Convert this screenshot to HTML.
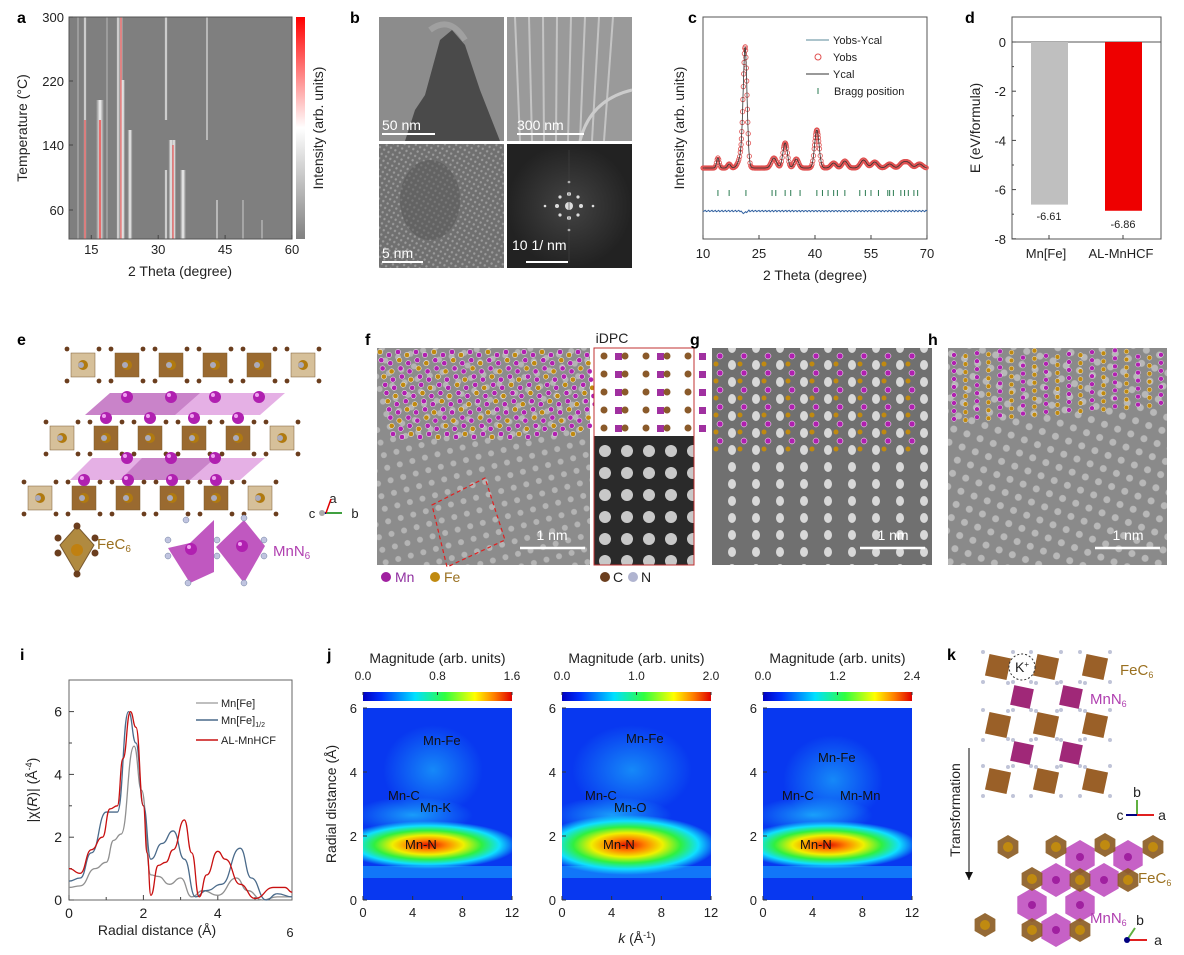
<!DOCTYPE html>
<html><head><meta charset="utf-8">
<style>
html,body{margin:0;padding:0;background:#fff;}
svg{display:block;font-family:"Liberation Sans",Arial,sans-serif;}
</style></head>
<body>
<svg id="s" width="1184" height="955" viewBox="0 0 1184 955" xmlns="http://www.w3.org/2000/svg">
<defs>
<linearGradient id="cbA" x1="0" y1="1" x2="0" y2="0">
<stop offset="0" stop-color="#808080"/><stop offset="0.5" stop-color="#fff"/><stop offset="1" stop-color="#ff0000"/></linearGradient>
<linearGradient id="jet" x1="0" y1="0" x2="1" y2="0">
<stop offset="0" stop-color="#0000c0"/><stop offset="0.12" stop-color="#0030ff"/><stop offset="0.35" stop-color="#00e0ff"/><stop offset="0.55" stop-color="#30ff40"/><stop offset="0.75" stop-color="#ffff00"/><stop offset="0.88" stop-color="#ff8000"/><stop offset="1" stop-color="#e00000"/></linearGradient>
<radialGradient id="hot" cx="0.5" cy="0.5" r="0.5">
<stop offset="0" stop-color="#e01000"/><stop offset="0.2" stop-color="#ff8000"/><stop offset="0.4" stop-color="#f0f000"/><stop offset="0.6" stop-color="#30f040"/><stop offset="0.8" stop-color="#10e0ff"/><stop offset="1" stop-color="#10e0ff" stop-opacity="0"/></radialGradient>
<radialGradient id="cy" cx="0.5" cy="0.5" r="0.5">
<stop offset="0" stop-color="#20c8ff" stop-opacity="0.7"/><stop offset="1" stop-color="#20c8ff" stop-opacity="0"/></radialGradient>
<linearGradient id="vw" x1="0" y1="0" x2="1" y2="0"><stop offset="0" stop-color="#fff" stop-opacity="0"/><stop offset="0.5" stop-color="#fff" stop-opacity="0.9"/><stop offset="1" stop-color="#fff" stop-opacity="0"/></linearGradient>
<linearGradient id="vr" x1="0" y1="0" x2="1" y2="0"><stop offset="0" stop-color="#ff8080" stop-opacity="0"/><stop offset="0.5" stop-color="#e81010"/><stop offset="1" stop-color="#ff8080" stop-opacity="0"/></linearGradient>
<pattern id="dots" width="14" height="14" patternUnits="userSpaceOnUse" patternTransform="rotate(20)">
<rect width="14" height="14" fill="#8a8a8a"/><circle cx="7" cy="7" r="3.5" fill="#b8b8b8"/></pattern>
<pattern id="cols" width="24" height="17" patternUnits="userSpaceOnUse">
<rect width="24" height="17" fill="#707070"/><ellipse cx="12" cy="8" rx="4" ry="5" fill="#d8d8d8"/></pattern>
<pattern id="dots2" width="13" height="13" patternUnits="userSpaceOnUse" patternTransform="rotate(-15)">
<rect width="13" height="13" fill="#8c8c8c"/><circle cx="6" cy="6" r="3" fill="#b4b4b4"/></pattern>
<pattern id="idpc" width="22" height="22" patternUnits="userSpaceOnUse">
<rect width="22" height="22" fill="#2a2a2a"/><circle cx="11" cy="11" r="6" fill="#c8c8c8"/></pattern>
<pattern id="hr" width="5" height="5" patternUnits="userSpaceOnUse" patternTransform="rotate(30)">
<rect width="5" height="5" fill="#707070"/><circle cx="2.5" cy="2.5" r="1.2" fill="#9a9a9a"/></pattern>
<radialGradient id="fft" cx="0.5" cy="0.5" r="0.5"><stop offset="0" stop-color="#444"/><stop offset="1" stop-color="#222"/></radialGradient>
<clipPath id="ca"><rect x="69" y="17" width="223" height="222"/></clipPath>
<clipPath id="cj0"><rect x="363" y="708" width="149" height="192"/></clipPath>
<clipPath id="cj1"><rect x="562" y="708" width="149" height="192"/></clipPath>
<clipPath id="cj2"><rect x="763" y="708" width="149" height="192"/></clipPath>
</defs>
<g id="root" font-size="13" fill="#222"></g>
</svg>
<script>
const R=document.getElementById('root');
let h='';
function T(x,y,t,o){o=o||{};h+=`<text x="${x}" y="${y}" font-size="${o.s||13}" text-anchor="${o.a||'middle'}" fill="${o.c||'#222'}" ${o.w?'font-weight="bold"':''} ${o.r?`transform="rotate(${o.r} ${x} ${y})"`:''}>${t}</text>`;}
function L(x1,y1,x2,y2,c,w){h+=`<line x1="${x1}" y1="${y1}" x2="${x2}" y2="${y2}" stroke="${c||'#444'}" stroke-width="${w||1}"/>`;}
function Rc(x,y,w,hh,f,st){h+=`<rect x="${x}" y="${y}" width="${w}" height="${hh}" fill="${f}" ${st?`stroke="${st}"`:''}/>`;}
function lbl(x,y,t){T(x,y,t,{s:16,w:1,a:'start',c:'#000'});}
// ---------- a
lbl(17,23,'a');
Rc(69,17,223,222,'#7f7f7f');
h+='<g clip-path="url(#ca)">';
const lines=[[85,3,'w',17,239],[85,2,'r',120,239],[100,8,'w',100,239],[100,3,'r',120,239],[118,3,'w',17,239],[121,4,'w',17,239],[121,2,'r',17,239],[130,5,'w',130,239],[123,4,'w',80,239],[171,5,'w',140,239],[174,4,'w',140,239],[173,2,'r',145,239],[183,6,'w',170,239],[166,3,'w',17,120],[166,3,'w',170,239],[207,2,'w',17,140],[217,2,'w',200,239],[243,1.5,'w',200,239],[262,1.5,'w',220,239],[78,1,'w',17,239],[107,1,'w',17,239]];
lines.forEach(l=>Rc(l[0]-l[1]/2,l[3],l[1],l[4]-l[3],l[2]=='w'?'url(#vw)':'url(#vr)'));
h+='</g>';
Rc(69,17,223,222,'none','#555');
Rc(296,17,9,222,'url(#cbA)');
const ax=v=>69+(v-10)*4.46;
[[15,'15'],[30,'30'],[45,'45'],[60,'60']].forEach(t=>{L(ax(t[0]),239,ax(t[0]),235);T(ax(t[0]),254,t[1]);});
[[300,17],[220,81],[140,145],[60,210]].forEach(t=>{L(69,t[1],73,t[1]);T(64,t[1]+5,t[0],{a:'end'});});
T(180,276,'2 Theta (degree)',{s:14});
T(27,128,'Temperature (°C)',{s:14,r:-90});
T(323,128,'Intensity (arb. units)',{s:14,r:-90});
// ---------- b
lbl(350,23,'b');
Rc(379,17,125,124,'#8c8c8c');
h+='<path d="M405 141 L415 110 L425 95 L440 40 L452 30 L465 45 L480 90 L500 141Z" fill="#4a4a4a"/>';
h+='<path d="M430 30 Q450 15 465 40" fill="none" stroke="#a0a0a0" stroke-width="6"/>';
Rc(507,17,125,124,'#9a9a9a');
for(let i=0;i<8;i++)L(515+i*14,17,520+i*12,141,'#c4c4c4',2);
h+='<path d="M580 141 Q590 100 632 90" fill="none" stroke="#ccc" stroke-width="3"/>';
Rc(379,144,125,124,'url(#hr)');
h+='<ellipse cx="430" cy="200" rx="30" ry="40" fill="#555" opacity="0.5"/>';
Rc(507,144,125,124,'url(#fft)');
h+='<g fill="#ddd">';[[569,206,4],[557,206,2],[581,206,2],[569,194,2],[569,218,2],[560,197,1.6],[578,197,1.6],[560,215,1.6],[578,215,1.6],[545,206,1.3],[593,206,1.3],[569,182,1.3],[569,230,1.3]].forEach(p=>h+=`<circle cx="${p[0]}" cy="${p[1]}" r="${p[2]}"/>`);h+='</g>';
L(569,150,569,262,'#444',0.6);
[[382,130,435,'50 nm'],[517,130,584,'300 nm'],[382,258,423,'5 nm'],[526,260,568,'10 1/ nm']].forEach((b,i)=>{L(b[0],i==3?262:b[1]+4,b[2],i==3?262:b[1]+4,'#fff',2);T(b[0]+(i==3?-14:0),b[1]-(i==3?10:0),b[3],{s:14,c:'#fff',a:'start'});});
// ---------- c
lbl(688,23,'c');
const cx=v=>703+(v-10)*3.733;
Rc(703,17,224,222,'none','#555');
const pk=[[14,10,0.35],[17,4,0.4],[21.3,110,0.5],[20.6,15,0.9],[29,10,0.7],[32,25,0.6],[35,9,0.6],[40.5,38,0.6],[45,5,0.7],[48,7,0.7],[53,8,0.8],[56,6,0.8],[60,4,0.8],[63.5,5,0.8],[65,5,0.8],[68,4,0.8]];
let pts=[];for(let v=10;v<=70;v+=0.1){let y=168;pk.forEach(p=>{y-=p[1]*Math.exp(-((v-p[0])**2)/(2*p[2]*p[2]));});pts.push([cx(v),y]);}
h+='<g fill="none" stroke="#e05050" stroke-width="0.8">';pts.forEach((p,i)=>{if(i%2==0||p[1]<150)h+=`<circle cx="${p[0].toFixed(1)}" cy="${p[1].toFixed(1)}" r="2.2"/>`;});h+='</g>';
h+=`<polyline points="${pts.map(p=>p[0].toFixed(1)+','+p[1].toFixed(1)).join(' ')}" fill="none" stroke="#333" stroke-width="0.8"/>`;
[14,17,21.5,28.5,29.5,32,33.5,36,40.5,42,43.5,45,46,48,52,53.5,55,57,59.5,60,61,63,64,65,66.5,67.5].forEach(v=>L(cx(v),190,cx(v),196,'#2a7a50',1));
let rp=[];for(let v=10;v<=70;v+=0.3)rp.push(cx(v).toFixed(1)+','+(211+Math.sin(v*7)*0.8+(Math.abs(v-21.5)<1?Math.sin(v*20)*2:0)).toFixed(1));
h+=`<polyline points="${rp.join(' ')}" fill="none" stroke="#3060a0" stroke-width="1"/>`;
L(806,40,829,40,'#5a8a9a');T(833,44,'Yobs-Ycal',{s:11,a:'start'});
h+='<circle cx="818" cy="57" r="3" fill="none" stroke="#e05050"/>';T(833,61,'Yobs',{s:11,a:'start'});
L(806,74,829,74,'#333');T(833,78,'Ycal',{s:11,a:'start'});
L(818,88,818,94,'#2a7a50');T(834,95,'Bragg position',{s:11,a:'start'});
[[10,'10'],[25,'25'],[40,'40'],[55,'55'],[70,'70']].forEach(t=>{L(cx(t[0]),239,cx(t[0]),235);T(cx(t[0]),258,t[1]);});
T(815,280,'2 Theta (degree)',{s:14});
T(684,128,'Intensity (arb. units)',{s:14,r:-90});
// ---------- d
lbl(965,23,'d');
const dy=v=>42-v*24.6;
Rc(1012,17,149,222,'none','#555');L(1012,42,1161,42,'#555');
Rc(1031,42,37,6.61*24.6,'#bfbfbf');Rc(1105,42,37,6.86*24.6,'#ee0000');
T(1049,220,'-6.61',{s:11});T(1123,228,'-6.86',{s:11});
[0,-2,-4,-6,-8].forEach(v=>{L(1012,dy(v),1016,dy(v));T(1006,dy(v)+5,v,{a:'end'});});
[-1,-3,-5,-7].forEach(v=>L(1012,dy(v),1014,dy(v)));
L(1049,239,1049,235);L(1123,239,1123,235);
T(1046,258,'Mn[Fe]');T(1121,258,'AL-MnHCF');
T(980,128,'E (eV/formula)',{s:14,r:-90});
// ---------- e
lbl(17,345,'e');
function sq(x,y,s,f){h+=`<rect x="${x-s/2}" y="${y-s/2}" width="${s}" height="${s}" fill="${f}" stroke="#7a5a30" stroke-width="0.5"/>`;
[[-s/2-4,-s/2-4],[s/2+4,-s/2-4],[-s/2-4,s/2+4],[s/2+4,s/2+4]].forEach(o=>h+=`<circle cx="${x+o[0]}" cy="${y+o[1]}" r="2.4" fill="#6b3e1e"/>`);
h+=`<circle cx="${x}" cy="${y}" r="5" fill="#b07a10"/><circle cx="${x-2}" cy="${y}" r="3" fill="#aab"/>`;}
function pm(x,y){h+=`<circle cx="${x}" cy="${y}" r="6" fill="#b020b0"/><circle cx="${x-2}" cy="${y-2}" r="2" fill="#f0a0f0"/>`;}
const rowsE=[[83,365,6],[62,438,6],[40,498,6]];
h+='<path d="M85 415 L110 393 L285 393 L260 415Z M70 480 L92 458 L265 458 L240 480Z" fill="#d070d0" opacity="0.55"/>';
h+='<path d="M85 415 L110 393 L200 393 L175 415Z M120 480 L142 458 L215 458 L190 480Z" fill="#a040a0" opacity="0.4"/>';
rowsE.forEach((r,i)=>{for(let k=0;k<r[2];k++)sq(r[0]+k*44,r[1],24,(k==0||k==5)?'#d6c09a':'#9a6a30');});
[[127,397],[171,397],[215,397],[259,397],[106,418],[150,418],[194,418],[238,418],[127,458],[171,458],[215,458],[84,480],[128,480],[172,480],[216,480]].forEach(p=>pm(p[0],p[1]));
T(333,503,'a',{s:13});T(312,518,'c',{s:13});T(355,518,'b',{s:13});
L(322,513,333,513,'#000080',2);L(326,513,342,513,'#40a040',2);L(326,513,331,499,'#e00000',1.5);h+='<circle cx="322" cy="513" r="3" fill="#aaa"/>';
h+='<path d="M77 526 L94 545 L77 574 L60 545Z" fill="#b08a40" stroke="#7a5a30"/>';
[[77,526],[77,574],[58,538],[58,553],[95,538],[95,553]].forEach(p=>h+=`<circle cx="${p[0]}" cy="${p[1]}" r="3.5" fill="#6b3e1e"/>`);
h+='<circle cx="77" cy="550" r="6" fill="#c08010"/>';
T(97,549,'FeC<tspan font-size="10" dy="3">6</tspan>',{s:15,c:'#9a7020',a:'start'});
h+='<path d="M168 548 L190 543 L214 520 L214 572 L190 583Z" fill="#c058c0"/><path d="M216 547 L244 520 L265 546 L244 583 Z" fill="#c058c0"/>';
pm(191,549);pm(242,546);
[[186,520],[168,540],[168,556],[188,583],[217,540],[217,556],[244,518],[264,540],[264,556],[244,583]].forEach(p=>h+=`<circle cx="${p[0]}" cy="${p[1]}" r="3" fill="#c0c4e0" stroke="#7080a0" stroke-width="0.5"/>`);
T(273,556,'MnN<tspan font-size="10" dy="3">6</tspan>',{s:15,c:'#b040b0',a:'start'});
// ---------- f
lbl(365,345,'f');
Rc(377,348,213,217,'url(#dots2)');
for(let r=0;r<11;r++)for(let c=0;c<24;c++){let x=380+c*9+r*1.3,y=352+r*8.2+(c%2)*3;if(y>450-(c*0.8))continue;let m=((c+r)%3!=0);h+=`<circle cx="${x}" cy="${y}" r="2.6" fill="${m?'#b020b0':'#c08a10'}" stroke="#fff" stroke-width="0.5"/>`;}
h+='<path d="M432 505 L485 478 L505 540 L447 567Z" fill="none" stroke="#e02020" stroke-dasharray="4 3" stroke-width="1.2"/>';
L(520,548,585,548,'#fff',2.5);T(552,540,'1 nm',{s:14,c:'#fff'});
Rc(594,348,100,217,'url(#idpc)');Rc(594,348,100,88,'#fff');Rc(594,348,100,217,'none','#c03030');
for(let r=0;r<5;r++)for(let c=0;c<5;c++){h+=`<circle cx="${604+c*21}" cy="${356+r*18}" r="3.5" fill="#8a5a2a"/>`;if(c%2==0)h+=`<rect x="${615+c*21}" y="${353+r*18}" width="7" height="7" fill="#a030a0"/>`;}
T(612,343,'iDPC',{s:14});
h+='<circle cx="386" cy="577" r="5" fill="#a020a0"/>';T(395,582,'Mn',{s:14,c:'#9030a0',a:'start'});
h+='<circle cx="435" cy="577" r="5" fill="#c08a10"/>';T(444,582,'Fe',{s:14,c:'#9a7020',a:'start'});
h+='<circle cx="605" cy="577" r="5" fill="#6b3e1e"/>';T(613,582,'C',{s:14,a:'start'});
h+='<circle cx="633" cy="577" r="5" fill="#b0b4d0"/>';T(641,582,'N',{s:14,a:'start'});
// ---------- g
lbl(690,345,'g');
Rc(712,348,220,217,'url(#cols)');
for(let r=0;r<6;r++)for(let c=0;c<9;c++){h+=`<circle cx="${720+c*24}" cy="${356+r*17}" r="3" fill="#b020b0" stroke="#fff" stroke-width="0.5"/>`;h+=`<circle cx="${716+c*24}" cy="${364+r*17}" r="2.5" fill="#c08a10"/>`;}
L(860,548,925,548,'#fff',2.5);T(893,540,'1 nm',{s:14,c:'#fff'});
// ---------- h
lbl(928,345,'h');
Rc(948,348,219,217,'url(#dots)');
for(let r=0;r<9;r++)for(let c=0;c<19;c++){let x=954+c*11.5,y=355+r*8-c*0.9+(c%2)*2;if(y<350)continue;h+=`<circle cx="${x}" cy="${y}" r="2.4" fill="${(c%2)?'#c08a10':'#b020b0'}" stroke="#fff" stroke-width="0.4"/>`;}
L(1095,548,1160,548,'#fff',2.5);T(1128,540,'1 nm',{s:14,c:'#fff'});
// ---------- i
lbl(20,660,'i');
const ix=v=>69+v*37.2, iy=v=>900-v*31.4;
Rc(69,680,223,220,'none','#666');
[0,2,4].forEach(v=>{L(ix(v),900,ix(v),895);T(ix(v),918,v,{s:14});});
[1,3,5].forEach(v=>L(ix(v),900,ix(v),897));
T(290,937,'6',{s:13});
[0,2,4,6].forEach(v=>{L(69,iy(v),74,iy(v));T(62,iy(v)+5,v,{s:14,a:'end'});});
[1,3,5].forEach(v=>L(69,iy(v),72,iy(v)));
function curve(d,c){let p=d.map(q=>[ix(q[0]),iy(q[1])]);let s=`M${p[0][0]},${p[0][1]}`;for(let i=1;i<p.length;i++){let a=p[i-1],b=p[i],mx=(a[0]+b[0])/2;s+=` C${mx},${a[1]} ${mx},${b[1]} ${b[0]},${b[1]}`;}h+=`<path d="${s}" fill="none" stroke="${c}" stroke-width="1.3"/>`;}
curve([[0,0.4],[0.3,0.45],[0.7,1.0],[1.0,1.2],[1.2,1.9],[1.4,2.1],[1.75,4.9],[1.95,3.5],[2.2,0.8],[2.4,0.75],[2.7,0.5],[3.0,0.7],[3.3,0.1],[3.6,0.3],[4.0,0.15],[4.5,0.7],[4.8,0.3],[5.2,0],[5.6,0.1],[6,0.1]],'#909090');
curve([[0,0.6],[0.3,0.7],[0.6,1.5],[1.0,2.8],[1.3,2.8],[1.6,6.0],[1.8,5],[2.0,3],[2.2,1.3],[2.5,1.8],[2.8,2.2],[3.1,1.3],[3.4,0.1],[3.7,0.3],[4.1,0.5],[4.6,1.65],[4.9,0.7],[5.3,0],[5.6,0.2],[6,0.1]],'#4a6a8a');
curve([[0,1],[0.3,0.85],[0.6,1.6],[0.9,2.0],[1.1,2.9],[1.3,3.0],[1.45,4.5],[1.65,6.0],[1.8,5.5],[2.0,3],[2.1,1.5],[2.2,0.15],[2.4,1.1],[2.6,1.2],[2.8,1.6],[3.1,2.55],[3.3,1.5],[3.5,0.1],[3.7,0.8],[4.0,1.55],[4.2,1.3],[4.6,0.5],[5.0,0.05],[5.5,0.4],[5.8,0.4],[6,0.25]],'#c81010');
L(196,703,218,703,'#aaa',1.5);T(221,707,'Mn[Fe]',{s:11,a:'start'});
L(196,720,218,720,'#4a6a8a',1.5);T(221,724,'Mn[Fe]<tspan font-size="7" dy="3">1/2</tspan>',{s:11,a:'start'});
L(196,740,218,740,'#c81010',1.5);T(221,744,'AL-MnHCF',{s:11,a:'start'});
T(157,935,'Radial distance (Å)',{s:14});
T(37,790,'|χ(<tspan font-style="italic">R</tspan>)| (Å<tspan font-size="9" dy="-5">-4</tspan><tspan dy="5">)</tspan>',{s:14,r:-90});
// ---------- j
lbl(327,660,'j');
const J=[[363,['0.0','0.8','1.6'],[['Mn-Fe',423,745],['Mn-C',388,800],['Mn-K',420,812],['Mn-N',405,849]]],[562,['0.0','1.0','2.0'],[['Mn-Fe',626,743],['Mn-C',585,800],['Mn-O',614,812],['Mn-N',603,849]]],[763,['0.0','1.2','2.4'],[['Mn-Fe',818,762],['Mn-C',782,800],['Mn-Mn',840,800],['Mn-N',800,849]]]];
J.forEach((j,n)=>{let x=j[0],w=149;
T(x+w/2,663,'Magnitude (arb. units)',{s:14});
Rc(x,692,w,9,'url(#jet)');
j[1].forEach((t,i)=>{T(x+i*w/2,680,t,{s:12});L(x+i*w/2,692,x+i*w/2,695,'#333');});
h+=`<g clip-path="url(#cj${n})">`;
Rc(x,708,w,192,'#0838f0');
h+=`<rect x="${x}" y="866" width="${w}" height="12" fill="#18a0ff" opacity="0.6"/>`;
h+=`<ellipse cx="${x+70}" cy="${n==2?780:770}" rx="${n==1?60:50}" ry="45" fill="url(#cy)" opacity="0.8"/>`;
h+=`<ellipse cx="${x+50}" cy="815" rx="60" ry="18" fill="url(#cy)"/>`;
h+=`<ellipse cx="${x+65}" cy="845" rx="${w*0.6}" ry="${n==1?30:24}" fill="url(#hot)"/>`;
h+='</g>';
[0,2,4,6].forEach(v=>{let y=900-v*32;L(x,y,x+4,y,'#333');T(x-6,y+5,v,{s:13,a:'end'});});
[0,4,8,12].forEach(v=>{let xx=x+v*w/12;L(xx,900,xx,896,'#333');T(xx,917,v,{s:13});});
});
J.forEach(j=>j[2].forEach(l=>T(l[1],l[2],l[0],{s:13,a:'start',c:'#111'})));
T(336,804,'Radial distance (Å)',{s:14,r:-90});
T(637,943,'<tspan font-style="italic">k</tspan> (Å<tspan font-size="9" dy="-5">-1</tspan><tspan dy="5">)</tspan>',{s:14});
// ---------- k
lbl(947,660,'k');
function dia(x,y,s,f){h+=`<rect x="${x-s/2}" y="${y-s/2}" width="${s}" height="${s}" fill="${f}" transform="rotate(12 ${x} ${y})"/>`;[[-1,-1],[1,-1],[-1,1],[1,1]].forEach(o=>h+=`<circle cx="${x+o[0]*(s/2+4)}" cy="${y+o[1]*(s/2+4)}" r="2" fill="#c0c4d8"/>`);}
[[998,667],[1046,667],[1095,667],[998,725],[1046,725],[1095,725],[998,781],[1046,781],[1095,781]].forEach(p=>dia(p[0],p[1],22,'#9a6028'));
[[1022,697],[1071,697],[1022,753],[1071,753]].forEach(p=>dia(p[0],p[1],20,'#a02878'));
h+='<circle cx="1022" cy="667" r="13" fill="#fff" stroke="#333" stroke-dasharray="2 2"/>';T(1022,672,'K<tspan font-size="8" dy="-5">+</tspan>',{s:14});
T(1120,675,'FeC<tspan font-size="9" dy="3">6</tspan>',{s:15,c:'#9a7020',a:'start'});
T(1090,704,'MnN<tspan font-size="9" dy="3">6</tspan>',{s:15,c:'#b040b0',a:'start'});
L(1137,815,1137,800,'#60b040',2);L(1137,815,1154,815,'#e02020',2);L(1137,815,1126,815,'#000080',2);
T(1137,797,'b',{s:14});T(1120,820,'c',{s:14});T(1162,820,'a',{s:14});
L(969,748,969,880,'#333',1.2);h+='<path d="M965 872 L973 872 L969 880Z" fill="#111"/>';
T(960,810,'Transformation',{s:14,r:-90});
function hexa(x,y,r,f){let p=[];for(let i=0;i<6;i++){let a=Math.PI/3*i+Math.PI/6;p.push((x+r*Math.cos(a)).toFixed(1)+','+(y+r*Math.sin(a)).toFixed(1));}h+=`<polygon points="${p.join(' ')}" fill="${f}" opacity="0.9"/>`;}
[[1056,880],[1104,880],[1032,905],[1080,905],[1056,930],[1080,857],[1128,857]].forEach(p=>{hexa(p[0],p[1],17,'#c050c0');h+=`<circle cx="${p[0]}" cy="${p[1]}" r="4" fill="#a020a0"/>`;});
[[1008,847],[1056,847],[1105,845],[1153,847],[1032,879],[1080,880],[1128,880],[985,925],[1032,930],[1080,930]].forEach(p=>{hexa(p[0],p[1],12,'#8a5a20');h+=`<circle cx="${p[0]}" cy="${p[1]}" r="5" fill="#c08a10"/>`;});
T(1138,883,'FeC<tspan font-size="9" dy="3">6</tspan>',{s:15,c:'#9a7020',a:'start'});
T(1090,923,'MnN<tspan font-size="9" dy="3">6</tspan>',{s:15,c:'#b040b0',a:'start'});
L(1127,940,1147,940,'#e02020',2);L(1127,940,1135,928,'#60b040',2);h+='<circle cx="1127" cy="940" r="3" fill="#000080"/>';
T(1140,925,'b',{s:14});T(1158,945,'a',{s:14});
R.innerHTML=h;
</script>
</body></html>
